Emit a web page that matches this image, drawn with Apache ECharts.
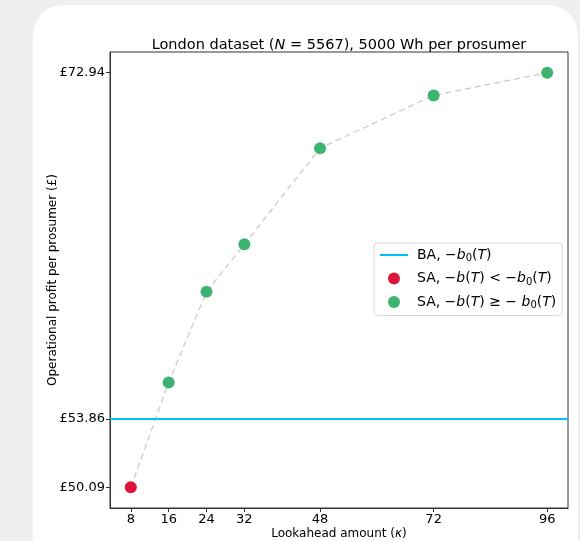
<!DOCTYPE html>
<html><head><meta charset="utf-8">
<script src="https://cdn.jsdelivr.net/npm/echarts@6/dist/echarts.min.js"></script>
<style>html,body{margin:0;padding:0;background:#efefef}#c{width:580px;height:541px}</style>
</head><body><div id="c"></div>
<script>
const lookahead = [8, 16, 24, 32, 48, 72, 96];
const profit = [50.09, 55.87, 60.87, 63.48, 68.78, 71.69, 72.94];
const baProfit = 53.86;
const yTickValues = [50.09, 53.86, 72.94];
const xTickValues = [8, 16, 24, 32, 48, 72, 96];

const pts = lookahead.map((k, i) => [k, profit[i]]);
const below = pts.filter(p => p[1] < baProfit);
const above = pts.filter(p => p[1] >= baProfit);
const xSpan = lookahead[lookahead.length - 1] - lookahead[0];
const yMinD = Math.min(...profit), yMaxD = Math.max(...profit);
const ySpan = yMaxD - yMinD;
const F = 'DejaVu Sans';

const chart = echarts.init(document.getElementById('c'), null, {renderer: 'canvas'});
const rich = {
  n: {fontFamily: F, fontSize: 14, color: '#000'},
  i: {fontFamily: F, fontSize: 14, fontStyle: 'italic', color: '#000'},
  s: {fontFamily: F, fontSize: 10, color: '#000', padding: [7, 0, 0, 0]}
};
chart.setOption({
  backgroundColor: '#efefef',
  animation: false,
  graphic: [{type: 'rect', z: -10, shape: {x: 33, y: 5, width: 545, height: 620, r: [30, 30, 0, 0]}, style: {fill: '#ffffff'}}],
  title: {
    text: '{n|London dataset (}{i|N}{n| = 5567), 5000 Wh per prosumer}',
    left: 334, textAlign: 'center', top: 33,
    textStyle: {fontWeight: 'normal', rich: {
      n: {fontFamily: F, fontSize: 14.5, fontWeight: 'normal', color: '#000'},
      i: {fontFamily: F, fontSize: 14.5, fontWeight: 'normal', fontStyle: 'italic', color: '#000'}
    }}
  },
  grid: {left: 110, top: 52, right: 12, bottom: 33, outerBoundsMode: 'none', containLabel: false,
    show: true, borderColor: '#333', borderWidth: 1, backgroundColor: 'transparent'},
  xAxis: {
    type: 'value', min: lookahead[0] - 0.05 * xSpan, max: lookahead[lookahead.length - 1] + 0.05 * xSpan,
    splitLine: {show: false},
    axisLine: {show: true, onZero: false, lineStyle: {color: '#333'}},
    axisTick: {show: true, length: 4, customValues: xTickValues, lineStyle: {color: '#333'}},
    axisLabel: {customValues: xTickValues, fontFamily: F, fontSize: 13, color: '#000', margin: 5},
    name: '{n|Lookahead amount (}{i|κ}{n|)}', nameLocation: 'middle', nameGap: 20, nameMoveOverlap: false,
    nameTextStyle: {rich: {
      n: {fontFamily: F, fontSize: 12, color: '#000'},
      i: {fontFamily: F, fontSize: 12, fontStyle: 'italic', color: '#000'}
    }}
  },
  yAxis: {
    type: 'value', min: yMinD - 0.05 * ySpan, max: yMaxD + 0.05 * ySpan,
    splitLine: {show: false},
    axisLine: {show: true, onZero: false, lineStyle: {color: '#333'}},
    axisTick: {show: true, length: 4, customValues: yTickValues, lineStyle: {color: '#333'}},
    axisLabel: {customValues: yTickValues, fontFamily: F, fontSize: 13, color: '#000', margin: 5,
      formatter: v => '£' + v.toFixed(2)},
    name: 'Operational profit per prosumer (£)', nameLocation: 'middle', nameGap: 51, nameMoveOverlap: false,
    nameTextStyle: {fontFamily: F, fontSize: 12, color: '#000'}
  },
  legend: {
    left: 374, top: 243, orient: 'vertical', itemGap: 8, itemWidth: 28, itemHeight: 12,
    padding: [5, 6, 5, 6], borderColor: '#d8d8d8', borderWidth: 1, borderRadius: 3,
    backgroundColor: '#fff',
    data: [{name: 'BA', icon: 'path://M0,5 L28,5 L28,7 L0,7 Z'}, {name: 'SAbelow', icon: 'circle'}, {name: 'SAabove', icon: 'circle'}],
    formatter: name => {
      if (name === 'BA') return '{n|BA, −}{i|b}{s|0}{n|(}{i|T}{n|)}';
      if (name === 'SAbelow') return '{n|SA, −}{i|b}{n|(}{i|T}{n|) < −}{i|b}{s|0}{n|(}{i|T}{n|)}';
      return '{n|SA, −}{i|b}{n|(}{i|T}{n|) ≥ − }{i|b}{s|0}{n|(}{i|T}{n|)}';
    },
    textStyle: {rich: rich, padding: [0, 0, 0, 4]}
  },
  series: [
    {name: 'BA', type: 'line', data: [], symbol: 'none', color: '#00bfff',
     lineStyle: {color: '#00bfff', width: 2},
     markLine: {silent: true, symbol: 'none', label: {show: false},
       lineStyle: {color: '#00bfff', width: 2, type: 'solid'}, data: [{yAxis: baProfit}]}},
    {name: 'path', type: 'line', data: pts, symbol: 'none', z: 1,
     lineStyle: {color: '#cccccc', width: 1.3, type: [6, 4]}},
    {name: 'SAbelow', type: 'scatter', data: below, symbolSize: 12, z: 5,
     itemStyle: {color: '#dc143c', opacity: 1}},
    {name: 'SAabove', type: 'scatter', data: above, symbolSize: 12, z: 5,
     itemStyle: {color: '#3cb371', opacity: 1}}
  ]
});
</script></body></html>
